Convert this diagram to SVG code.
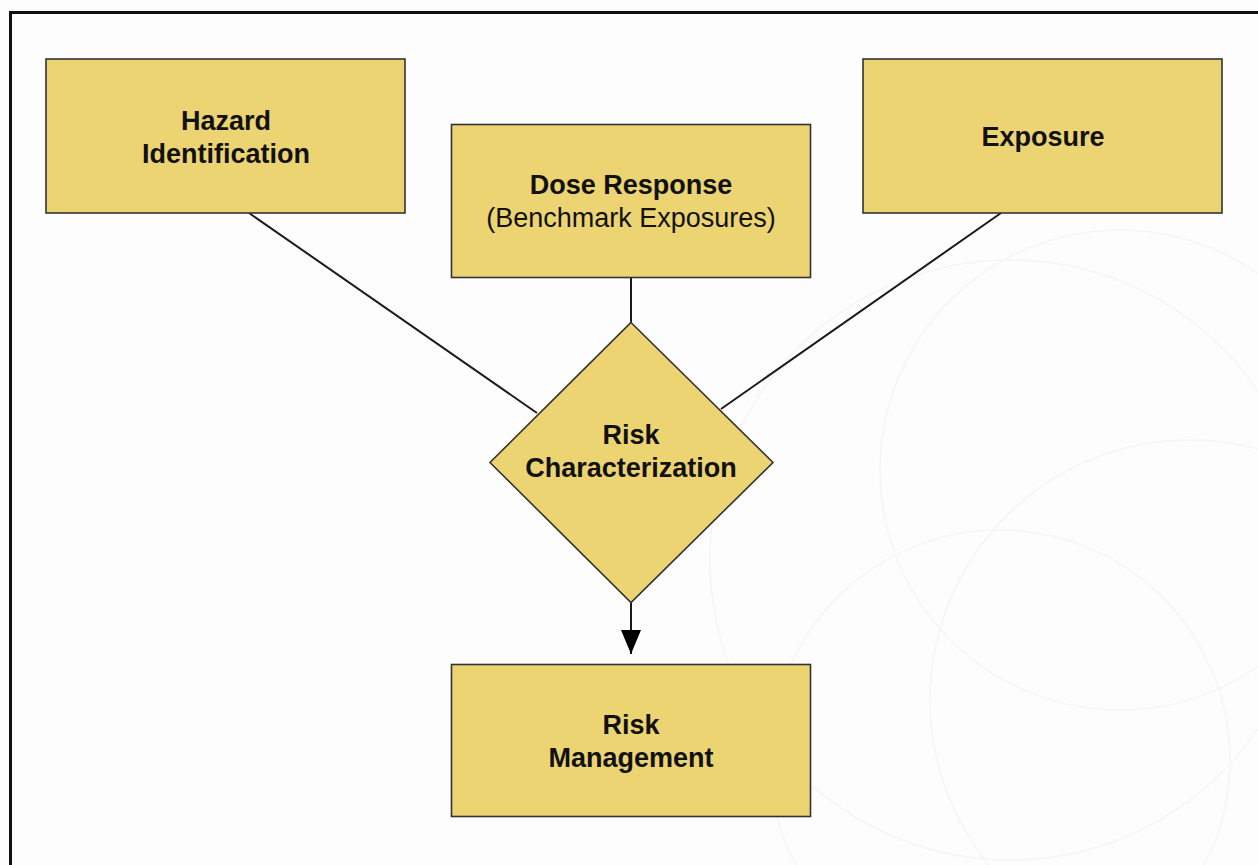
<svg xmlns="http://www.w3.org/2000/svg" width="1258" height="865" viewBox="0 0 1258 865">
  <defs>
    <style>
      .box { fill: #ECD473; stroke: #333333; stroke-width: 1.6; }
      .lbl { font-family: "Liberation Sans", Arial, sans-serif; font-size: 27px; fill: #111111; text-anchor: middle; }
      .b { font-weight: bold; }
      .edge { stroke: #1a1a1a; stroke-width: 2; fill: none; }
      .wm { stroke: #f5f5f5; stroke-width: 1.5; fill: none; }
    </style>
    <marker id="arrow" viewBox="0 0 24 20" refX="24" refY="10" markerWidth="24" markerHeight="20" markerUnits="userSpaceOnUse" orient="auto">
      <path d="M0,0 L24,10 L0,20 Z" fill="#000000"/>
    </marker>
  </defs>

  <rect x="0" y="0" width="1258" height="865" fill="#fdfdfd"/>

  <!-- faint background ornament -->
  <g id="watermark">
    <circle class="wm" cx="1010" cy="560" r="300"/>
    <circle class="wm" cx="1120" cy="470" r="240"/>
    <circle class="wm" cx="1000" cy="760" r="230"/>
    <circle class="wm" cx="1190" cy="700" r="260"/>
  </g>

  <!-- page frame -->
  <path d="M10.5,880 L10.5,12.5 L1270,12.5" stroke="#111111" stroke-width="3" fill="none"/>

  <g id="connectors">
    <line class="edge" x1="249" y1="213" x2="537" y2="413"/>
    <line class="edge" x1="1001" y1="213" x2="721" y2="409"/>
    <line class="edge" x1="631" y1="278" x2="631" y2="322"/>
    <line class="edge" x1="631" y1="603" x2="631" y2="654" marker-end="url(#arrow)"/>
  </g>

  <g id="hazard">
    <rect class="box" x="46" y="59" width="359" height="154"/>
    <text class="lbl b" x="226" y="130">Hazard</text>
    <text class="lbl b" x="226" y="163">Identification</text>
  </g>

  <g id="dose-response">
    <rect class="box" x="451.5" y="124.5" width="359" height="153"/>
    <text class="lbl b" x="631" y="194">Dose Response</text>
    <text class="lbl" x="631" y="227">(Benchmark Exposures)</text>
  </g>

  <g id="exposure">
    <rect class="box" x="863" y="59" width="359" height="154"/>
    <text class="lbl b" x="1043" y="146">Exposure</text>
  </g>

  <g id="risk-characterization">
    <polygon class="box" points="631,322.5 773,462.5 631,602.5 490,462.5"/>
    <text class="lbl b" x="631" y="444">Risk</text>
    <text class="lbl b" x="631" y="477">Characterization</text>
  </g>

  <g id="risk-management">
    <rect class="box" x="451.5" y="664.5" width="359" height="152"/>
    <text class="lbl b" x="631" y="734">Risk</text>
    <text class="lbl b" x="631" y="767">Management</text>
  </g>
</svg>
